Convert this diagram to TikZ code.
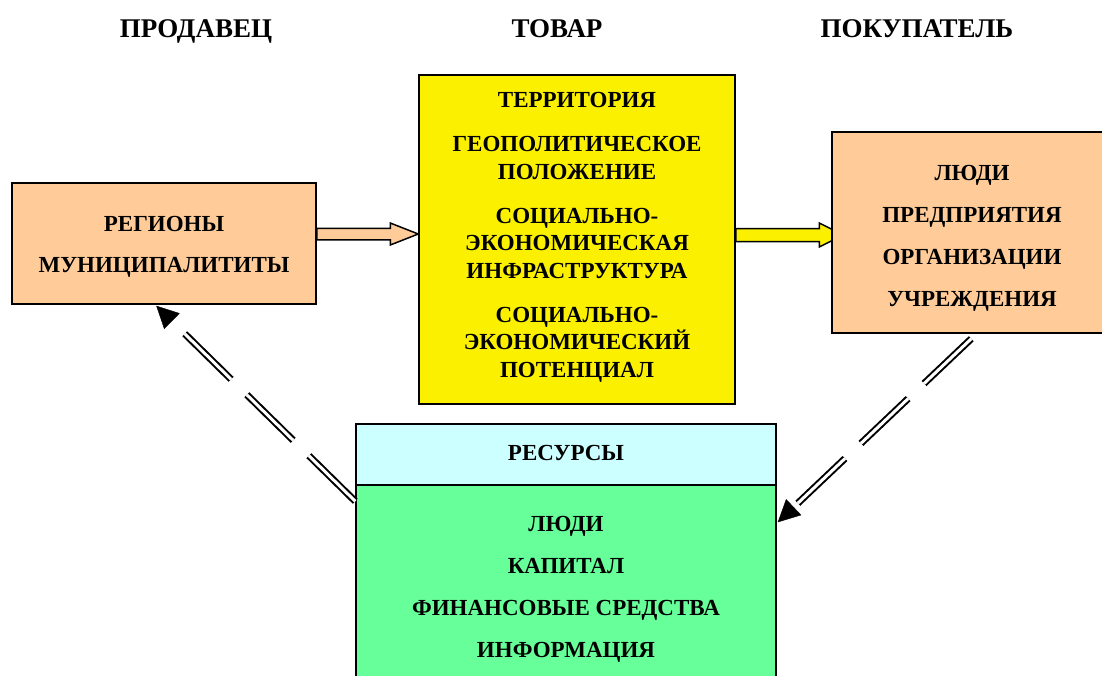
\documentclass[tikz,border=0pt]{standalone}
\usepackage{fontspec}
\setmainfont{Liberation Serif}
\usetikzlibrary{calc, positioning, arrows.meta, backgrounds}
\definecolor{peach}{RGB}{255,204,153}
\definecolor{goodsyellow}{RGB}{250,240,0}
\definecolor{rescyan}{RGB}{204,255,255}
\definecolor{resgreen}{RGB}{102,255,153}
\newcommand{\boxfont}{\bfseries\fontsize{23}{27.5}\selectfont}
\newcommand{\titlefont}{\bfseries\fontsize{27}{32}\selectfont}

\tikzset{
  box/.style={draw, line width=1.5pt, inner sep=0pt},
  boxtext/.style={align=center, font=\boxfont, inner sep=0pt},
  title/.style={font=\titlefont, anchor=base},
  blockarrow/.style n args={3}{draw, line width=1.5pt, to path={
      let \p1=(\tikztostart), \p2=(\tikztotarget) in
      (\x1,\y1+#1) -- (\x2-#3,\y1+#1) -- (\x2-#3,\y1+#2) -- (\x2,\y1)
      -- (\x2-#3,\y1-#2) -- (\x2-#3,\y1-#1) -- (\x1,\y1-#1) -- cycle}},
  backlink/.style={double, line width=2pt, double distance=3pt, dash pattern=on 65pt off 22pt},
}

\begin{document}
\begin{tikzpicture}[x=1pt, y=-1pt, >={Triangle[length=22pt, width=22pt]}]
    \useasboundingbox (0,0) rectangle (1102,675);
    \clip (0,0) rectangle (1102,675);

    \node[title] (seller-title) at (196,37.5) {ПРОДАВЕЦ};
    \node[title] (goods-title) at (557,37.5) {ТОВАР};
    \node[title] (buyer-title) at (917,37.5) {ПОКУПАТЕЛЬ};

    \node[box, fill=peach, minimum width=304pt, minimum height=121pt] (seller-box) at (164,243.5) {};
    \node[box, fill=goodsyellow, minimum width=316pt, minimum height=329pt] (goods-box) at (577,239.5) {};
    \node[box, fill=peach, minimum width=280pt, minimum height=201pt] (buyer-box) at (972,232.5) {};
    \node[box, fill=rescyan, minimum width=420pt, minimum height=61pt] (res-head) at (566,454.5) {};
    \node[box, fill=resgreen, minimum width=420pt, minimum height=202pt, below=-1.5pt of res-head] (res-body) {};

    \node[boxtext] (seller-text) at ([yshift=-3pt]seller-box.center) {РЕГИОНЫ\\[13.5pt]МУНИЦИПАЛИТИТЫ};
    \node[boxtext] (goods-text) at ([yshift=2pt]goods-box.center) {ТЕРРИТОРИЯ\\[16.5pt]ГЕОПОЛИТИЧЕСКОЕ\\ПОЛОЖЕНИЕ\\[16.5pt]СОЦИАЛЬНО-\\ЭКОНОМИЧЕСКАЯ\\ИНФРАСТРУКТУРА\\[16.5pt]СОЦИАЛЬНО-\\ЭКОНОМИЧЕСКИЙ\\ПОТЕНЦИАЛ};
    \node[boxtext] (buyer-text) at ([yshift=-6pt]buyer-box.center) {ЛЮДИ\\[14.5pt]ПРЕДПРИЯТИЯ\\[14.5pt]ОРГАНИЗАЦИИ\\[14.5pt]УЧРЕЖДЕНИЯ};
    \node[boxtext] (res-title) at ([yshift=2pt]res-head.center) {РЕСУРСЫ};
    \node[boxtext] (res-text) at ([yshift=-3pt]res-body.center) {ЛЮДИ\\[14.5pt]КАПИТАЛ\\[14.5pt]ФИНАНСОВЫЕ СРЕДСТВА\\[14.5pt]ИНФОРМАЦИЯ};

    % block arrows seller -> goods -> buyer
    \coordinate (seller-out) at ([yshift=9.5pt]seller-box.east);
    \coordinate (goods-in) at (seller-out -| goods-box.west);
    \coordinate (goods-out) at ([yshift=4.5pt]goods-box.east);
    \coordinate (buyer-in) at ($(goods-out -| buyer-box.west)+(12,0)$);
    \begin{scope}[on background layer]
        \draw[blockarrow={5.75pt}{11pt}{28pt}, fill=peach] (seller-out) to (goods-in);
        \draw[blockarrow={6.5pt}{12pt}{24pt}, fill=goodsyellow] (goods-out) to (buyer-in);
    \end{scope}

    % dashed links back through resources
    \coordinate (res-left) at ([yshift=-17pt]res-body.north west);
    \coordinate (seller-tip) at ($(seller-box.south west)+(145,1)$);
    \coordinate (buyer-out) at ($(buyer-box.south west)+(140,5)$);
    \coordinate (res-right) at ($(res-body.north east)+(1,38)$);
    \draw[backlink] (res-left) -- ($(seller-tip)!22pt!(res-left)$);
    \draw[->] ($(seller-tip)!22pt!(res-left)$) -- (seller-tip);
    \draw[backlink] (buyer-out) -- ($(res-right)!22pt!(buyer-out)$);
    \draw[->] ($(res-right)!22pt!(buyer-out)$) -- (res-right);

\end{tikzpicture}
\end{document}
